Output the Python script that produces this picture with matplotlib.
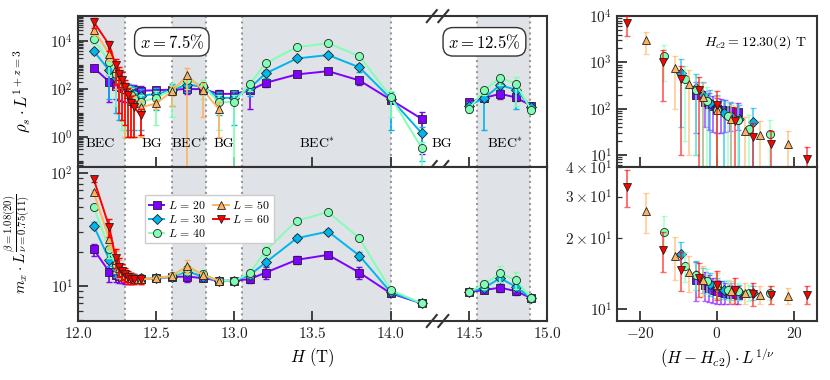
import numpy as np
import matplotlib.pyplot as plt
from matplotlib import transforms
from matplotlib.ticker import LogLocator, NullFormatter, FixedLocator

plt.rcParams.update({
    'font.family': 'serif',
    'font.serif': ['cmr10'],
    'mathtext.fontset': 'cm',
    'axes.formatter.use_mathtext': True,
    'font.size': 11,
})

# field values (T)
H_dense = [12.1, 12.2, 12.24, 12.26, 12.28, 12.30, 12.32, 12.34, 12.36, 12.40]
H_mid = [12.5, 12.6, 12.7, 12.8, 12.9]
H_high = [13.0, 13.1, 13.2, 13.4, 13.6, 13.8, 14.0, 14.2]
H_x125 = [14.5, 14.6, 14.7, 14.8, 14.9]
sizes = [20, 30, 40, 50, 60]
Hc2 = 12.30
nu = 0.75

# rho_s * L^(1+z), x = 7.5%
rho_20 = [780, 200, 140, 125, 112, 100, 95, 92, 88, 85, 89, 95, 100, 100, 63, 63, 89, 182, 410, 560, 230, 36, 5.6]
rho_30 = [3900, 600, 280, 195, 130, 100, 79, 69, 60, 52, 63, 90, 155, 123, 43, 43, 112, 450, 1900, 2650, 810, 40, 1.4]
rho_40 = [12000, 1400, 430, 250, 150, 93, 70, 56, 37, 29, 43, 92, 250, 140, 28, 29, 165, 1180, 5700, 8200, 2400, 47, 0.33]
rho_50 = [30000, 3000, 750, 350, 180, 96, 61, 33, 27, 17, 25, 80, 370, 89, 15]
rho_60 = [65000, 7000, 1000, 430, 250, 123, 55, 25, 17, 8.2]
rho_20_err = [200, 170, 100, 90, 80, 70, 65, 60, 55, 50, 30, 40, 40, 40, 25, 20, 75, 60, 90, 100, 80, 8, 5.4]
rho_30_err = [1000, 560, 270, 190, 125, 98, 77, 67, 58, 50, 50, 70, 80, 60, 35, 40, 60, 150, 400, 500, 300, 38, 1.3]
rho_40_err = [4000, 1000, 410, 240, 148, 92, 69, 55, 36, 28, 40, 85, 150, 100, 26, 30, 80, 300, 1000, 1500, 600, 40, 0.3]
rho_50_err = [12000, 1500, 650, 340, 175, 95, 60, 32, 26, 16, 10, 60, 400, 82, 14]
rho_60_err = [30000, 3200, 850, 420, 245, 120, 54, 24, 16, 7]

# rho_s, x = 12.5%
rho_20_b = [28, 43, 63, 45, 20]
rho_30_b = [20, 43, 145, 95, 18]
rho_40_b = [15, 89, 295, 170, 13]
rho_20_b_err = [8, 10, 25, 12, 5]
rho_30_b_err = [8, 41, 40, 80, 5]
rho_40_b_err = [5, 30, 150, 150, 4]

# m_x * L^(beta/nu), x = 7.5%
m_20 = [21, 13.3, 12.6, 12.3, 12.1, 11.9, 11.8, 11.7, 11.6, 11.5, 11.7, 12.0, 12.1, 11.7, 11.1, 11.1, 11.5, 13.1, 17.0, 18.8, 13.1, 8.6, 7.0]
m_30 = [34, 17.1, 14.0, 13.3, 12.8, 12.3, 12.1, 11.9, 11.8, 11.7, 11.7, 12.1, 13.4, 12.1, 11.1, 11.1, 12.5, 16.1, 26.4, 30.2, 18.5, 8.8, 7.0]
m_40 = [50, 21.2, 15.2, 13.9, 13.2, 12.5, 12.1, 11.9, 11.7, 11.7, 11.7, 12.2, 14.0, 12.8, 11.1, 11.1, 13.0, 20.5, 37.6, 44.9, 26.4, 9.2, 7.0]
m_50 = [67, 26, 16.8, 14.3, 13.3, 12.6, 11.9, 11.7, 11.5, 11.4, 11.7, 12.3, 15.0, 12.5, 11.1]
m_60 = [88, 33, 17.8, 14.7, 13.5, 12.7, 12.0, 11.6, 11.5, 11.5]
m_20_err = [2.5, 2.5, 1.8, 1.6, 1.5, 1.4, 1.3, 1.2, 1.1, 1.0, 0.5, 0.5, 1.2, 0.6, 0.4, 0.3, 0.8, 1.5, 1.5, 1.2, 1.5, 0.5, 0.3]
m_30_err = [2.5, 2.2, 2.0, 1.6, 1.4, 1.2, 1.1, 1.0, 0.9, 0.8, 0.5, 0.6, 1.0, 0.8, 0.4, 0.3, 0.8, 1.2, 1.5, 1.5, 1.5, 0.5, 0.3]
m_40_err = [3, 3.5, 2.2, 1.8, 1.6, 1.4, 1.2, 1.0, 0.9, 0.8, 0.5, 0.8, 1.2, 1.0, 0.4, 0.3, 1.0, 2.0, 1.5, 1.5, 1.2, 0.5, 0.3]
m_50_err = [4, 5, 3.5, 2.5, 2.0, 1.6, 1.3, 1.2, 1.0, 0.9, 0.5, 0.6, 2.0, 0.8, 0.4]
m_60_err = [5, 6, 3.5, 2.8, 2.2, 1.8, 1.5, 1.3, 1.0, 1.0]

# m_x, x = 12.5%
m_20_b = [8.85, 9.2, 9.65, 9.0, 7.8]
m_30_b = [8.85, 9.65, 11.7, 9.85, 7.8]
m_40_b = [8.85, 10.3, 12.9, 11.3, 7.8]
m_20_b_err = [0.3, 0.5, 0.8, 0.7, 0.3]
m_30_b_err = [0.3, 0.6, 0.8, 0.8, 0.4]
m_40_b_err = [0.3, 1.0, 2.0, 2.0, 0.3]

# phase boundaries (T) and region labels
bounds = [12.0, 12.3, 12.6, 12.82, 13.05, 14.0, 14.55, 14.89, 15.0]
shaded = [True, False, True, False, True, False, True, False]
region_names = ['BEC', 'BG', r'BEC$^{*}$', 'BG', r'BEC$^{*}$', 'BG', r'BEC$^{*}$']
region_x = [12.145, 12.47, 12.71, 12.93, 13.53, 14.33, 14.73]
H_break = 14.3

rho_all = [rho_20, rho_30, rho_40, rho_50, rho_60]
rho_err_all = [rho_20_err, rho_30_err, rho_40_err, rho_50_err, rho_60_err]
m_all = [m_20, m_30, m_40, m_50, m_60]
m_err_all = [m_20_err, m_30_err, m_40_err, m_50_err, m_60_err]
rho_b_all = [rho_20_b, rho_30_b, rho_40_b]
rho_b_err_all = [rho_20_b_err, rho_30_b_err, rho_40_b_err]
m_b_all = [m_20_b, m_30_b, m_40_b]
m_b_err_all = [m_20_b_err, m_30_b_err, m_40_b_err]

colors = plt.cm.rainbow(np.linspace(0, 1, 5))
markers = ['s', 'D', 'o', '^', 'v']
msizes = [5.8, 5.5, 5.8, 6, 6]
H_75 = np.array(H_dense + H_mid + H_high)

fig = plt.figure(figsize=(8.3, 3.8), dpi=100)
ax_tl = fig.add_axes([0.094, 0.5605, 0.565, 0.397])
ax_bl = fig.add_axes([0.094, 0.1553, 0.565, 0.405])
ax_tr = fig.add_axes([0.7434, 0.5605, 0.241, 0.397])
ax_br = fig.add_axes([0.7434, 0.1553, 0.241, 0.405])

spine_col = '#333333'


def style_axis(ax):
    for s in ax.spines.values():
        s.set_linewidth(1.5)
        s.set_color(spine_col)
    ax.tick_params(which='both', direction='in', top=False, right=False, colors=spine_col, labelcolor='#222222')
    ax.tick_params(which='major', length=7, width=1.3)
    ax.tick_params(which='minor', length=3.5, width=0.9)
    ax.tick_params(axis='x', which='minor', bottom=False)


def draw_breaks(ax, ypos):
    # two slanted strokes across the spine at the field break
    trans = transforms.blended_transform_factory(ax.transData, ax.transAxes)
    dx = 0.032
    dy = 6.0 / (ax.get_position().height * 380)
    for off in (-0.037, 0.037):
        xc = H_break + off
        ax.plot([xc - dx, xc + dx], [ypos - dy, ypos + dy], transform=trans,
                color=spine_col, lw=1.5, clip_on=False, zorder=10)


for ax in (ax_tl, ax_bl):
    for i in range(len(bounds) - 1):
        if shaded[i]:
            ax.axvspan(bounds[i], bounds[i + 1], color='#dfe2e6', lw=0, zorder=0)
    for b in bounds[1:-1]:
        ax.axvline(b, color='#999999', ls=':', lw=1.5, zorder=1)

# left panels: data vs field
for k, L in enumerate(sizes):
    n = len(rho_all[k])
    H = H_75[:n]
    for ax, vals, errs in ((ax_tl, rho_all[k], rho_err_all[k]), (ax_bl, m_all[k], m_err_all[k])):
        ax.errorbar(H, vals, yerr=errs, fmt='none', ecolor=colors[k], elinewidth=1.2, capsize=2, capthick=1.0, zorder=2 + k)
        ax.plot(H, vals, marker=markers[k], color=colors[k], ms=msizes[k], mec='#222222', mew=0.6, lw=1.4,
                label=rf'$L\,=\,{L}$', zorder=3 + k)
    if k < 3:
        for ax, vals, errs in ((ax_tl, rho_b_all[k], rho_b_err_all[k]), (ax_bl, m_b_all[k], m_b_err_all[k])):
            ax.errorbar(H_x125, vals, yerr=errs, fmt='none', ecolor=colors[k], elinewidth=1.2, capsize=2, capthick=1.0, zorder=2 + k)
            ax.plot(H_x125, vals, marker=markers[k], color=colors[k], ms=msizes[k], mec='#222222', mew=0.6, lw=1.4, zorder=3 + k)

# right panels: collapse around Hc2
for k, L in enumerate(sizes):
    H = np.array(H_dense[1:])
    xs = (H - Hc2) * L ** (1 / nu)
    for ax, vals, errs in ((ax_tr, rho_all[k], rho_err_all[k]), (ax_br, m_all[k], m_err_all[k])):
        v = np.array(vals[1:len(H_dense)])
        e = np.array(errs[1:len(H_dense)])
        ax.errorbar(xs, v, yerr=e, fmt='none', ecolor=colors[k], alpha=0.6, elinewidth=1.3, capsize=2, capthick=1.0, zorder=2 + k)
        ax.plot(xs, v, ls='none', marker=markers[k], color=colors[k], ms=msizes[k], mec='#222222', mew=0.6, zorder=3 + k)

for ax in (ax_tl, ax_bl, ax_tr, ax_br):
    ax.set_yscale('log')
    style_axis(ax)

for ax in (ax_tl, ax_bl):
    ax.set_xlim(12.0, 15.0)
    ax.set_xticks([12.0, 12.5, 13.0, 13.5, 14.0, 14.5, 15.0])

ax_tl.set_ylim(0.055, 1.12e5)
ax_tl.yaxis.set_major_locator(FixedLocator([1, 1e2, 1e4]))
ax_tl.yaxis.set_minor_locator(LogLocator(base=10, subs=np.arange(1, 10), numticks=30))
ax_tl.yaxis.set_minor_formatter(NullFormatter())
ax_tl.tick_params(axis='x', labelbottom=False)
ax_tl.set_ylabel(r'$\rho_s \cdot L^{1+z=3}$', fontsize=12)
ax_tl.yaxis.set_label_coords(-0.095, 0.5)

ax_bl.set_ylim(4.9, 112)
ax_bl.yaxis.set_major_locator(FixedLocator([10, 100]))
ax_bl.yaxis.set_minor_locator(LogLocator(base=10, subs=np.arange(2, 10), numticks=30))
ax_bl.yaxis.set_minor_formatter(NullFormatter())
ax_bl.set_ylabel(r'$m_x \cdot L^{\dfrac{\beta=1.08(20)}{\nu=0.75(11)}}$', fontsize=11)
ax_bl.yaxis.set_label_coords(-0.095, 0.5)
ax_bl.set_xlabel(r'$H$ (T)', fontsize=12)

ax_tr.set_xlim(-26, 26)
ax_tr.set_xticks([-20, 0, 20])
ax_tr.tick_params(axis='x', labelbottom=False)
ax_tr.set_ylim(5.5, 1e4)
ax_tr.yaxis.set_major_locator(FixedLocator([10, 100, 1000, 10000]))
ax_tr.yaxis.set_minor_locator(LogLocator(base=10, subs=np.arange(2, 10), numticks=30))
ax_tr.yaxis.set_minor_formatter(NullFormatter())

ax_br.set_xlim(-26, 26)
ax_br.set_xticks([-20, 0, 20])
ax_br.set_ylim(8.9, 40)
ax_br.yaxis.set_major_locator(FixedLocator([10]))
ax_br.yaxis.set_minor_locator(FixedLocator([20, 30, 40]))
ax_br.yaxis.set_minor_formatter(plt.FixedFormatter([r'$2\times10^{1}$', r'$3\times10^{1}$', r'$4\times10^{1}$']))
ax_br.tick_params(axis='y', which='minor', labelsize=11)
ax_br.set_xlabel(r'$(H - H_{c2}) \cdot L^{1/\nu}$', fontsize=12)

# region labels
trans_tl = transforms.blended_transform_factory(ax_tl.transData, ax_tl.transAxes)
for name, xpos in zip(region_names, region_x):
    ax_tl.text(xpos, 0.155, name, transform=trans_tl, ha='center', va='center', fontsize=10, zorder=20)

box = dict(boxstyle='round,pad=0.3,rounding_size=0.6', fc='white', ec='#333333', lw=1.0)
ax_tl.text(12.6, 0.83, r'$x = 7.5\%$', transform=trans_tl, ha='center', va='center', fontsize=12, bbox=box, zorder=20)
ax_tl.text(14.6, 0.83, r'$x = 12.5\%$', transform=trans_tl, ha='center', va='center', fontsize=12, bbox=box, zorder=20)
ax_tr.text(0.69, 0.83, r'$H_{c2} = 12.30(2)$ T', transform=ax_tr.transAxes, ha='center', va='center', fontsize=10)

ax_bl.legend(loc='upper left', bbox_to_anchor=(0.13, 0.855), ncol=2, fontsize=8.5, handlelength=1.3,
             handletextpad=0.3, columnspacing=0.6, labelspacing=0.15, borderpad=0.35,
             framealpha=1, edgecolor='#cccccc', fancybox=False)

draw_breaks(ax_tl, 1.0)
draw_breaks(ax_tl, 0.0)
draw_breaks(ax_bl, 0.0)

plt.savefig('out.png', dpi=100)
